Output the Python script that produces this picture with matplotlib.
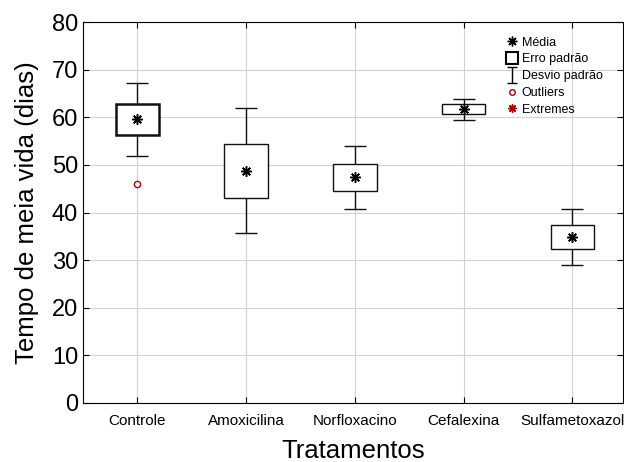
import matplotlib
matplotlib.use("Agg")
import matplotlib.pyplot as plt
from matplotlib.lines import Line2D
from matplotlib.path import Path

plt.rcParams['font.family'] = ['Liberation Sans', 'DejaVu Sans']

# dados
tratamentos = ["Controle", "Amoxicilina", "Norfloxacino", "Cefalexina", "Sulfametoxazol"]
media = [59.6, 48.8, 47.4, 61.7, 34.8]
ep_baixo = [56.3, 43.0, 44.5, 60.6, 32.3]
ep_alto = [62.9, 54.5, 50.3, 62.7, 37.3]
dp_baixo = [51.9, 35.6, 40.8, 59.4, 28.9]
dp_alto = [67.2, 61.9, 54.0, 63.8, 40.7]
outliers_x = ["Controle"]
outliers_y = [45.9]

fig = plt.figure(figsize=(6.24, 4.62), dpi=100)
ax = fig.add_axes([0.133, 0.128, 0.866, 0.824])

pos = list(range(1, len(tratamentos) + 1))
asterisco = (8, 2, 0)

# whiskers (desvio padrao)
low = [m - d for m, d in zip(media, dp_baixo)]
high = [d - m for m, d in zip(media, dp_alto)]
ax.errorbar(pos, media, yerr=[low, high], fmt='none', ecolor='#111111',
            elinewidth=1.0, capsize=7.8, capthick=1.0, zorder=3)

# caixas (erro padrao)
alturas = [a - b for a, b in zip(ep_alto, ep_baixo)]
lws = [1.8, 1.0, 1.0, 1.0, 1.0]
ax.bar(pos, alturas, bottom=ep_baixo, width=0.4, color='white',
       edgecolor='#111111', linewidth=lws, zorder=4)

# medias
ax.plot(pos, media, linestyle='none', marker=asterisco, markersize=7.5,
        color='black', markeredgewidth=1.1, zorder=5)

# outliers
ox = [pos[tratamentos.index(t)] for t in outliers_x]
ax.plot(ox, outliers_y, linestyle='none', marker='o', markersize=4.5,
        markerfacecolor='white', markeredgecolor='#b00000',
        markeredgewidth=1.0, zorder=5)

ax.set_xlim(0.5, 5.47)
ax.set_ylim(0, 80)
ax.set_yticks(range(0, 81, 10))
ax.set_xticks(pos)
ax.set_xticklabels(tratamentos, fontsize=11)
ax.tick_params(axis='y', labelsize=17, direction='in', length=4,
               right=True)
ax.tick_params(axis='x', direction='in', length=4, top=True, pad=8)
ax.grid(True, color='#d2d2d2', linewidth=0.8)
ax.set_axisbelow(True)
for s in ax.spines.values():
    s.set_linewidth(0.8)

ax.set_xlabel("Tratamentos", fontsize=18.5, labelpad=8)
ax.set_ylabel("Tempo de meia vida (dias)", fontsize=18.5, labelpad=9)

# legenda
barra = Path([(0, -1), (0, 1), (-0.6, 1), (0.6, 1), (-0.6, -1), (0.6, -1)],
             [Path.MOVETO, Path.LINETO, Path.MOVETO, Path.LINETO,
              Path.MOVETO, Path.LINETO])
handles = [
    Line2D([], [], linestyle='none', marker=asterisco, markersize=7,
           color='black', markeredgewidth=1.0),
    Line2D([], [], linestyle='none', marker='s', markersize=9,
           markerfacecolor='white', markeredgecolor='black',
           markeredgewidth=1.5),
    Line2D([], [], linestyle='none', marker=barra, markersize=11,
           color='black', markeredgewidth=1.0),
    Line2D([], [], linestyle='none', marker='o', markersize=4,
           markerfacecolor='white', markeredgecolor='#b00000'),
    Line2D([], [], linestyle='none', marker=asterisco, markersize=6,
           color='#b00000', markeredgewidth=1.0),
]
labels = ["Média", "Erro padrão", "Desvio padrão", "Outliers", "Extremes"]
ax.legend(handles, labels, loc='upper left', bbox_to_anchor=(0.768, 0.985),
          frameon=False, fontsize=9, handlelength=0.8, handletextpad=0.4,
          labelspacing=0.38, borderpad=0.2)

fig.savefig("out.png", dpi=100)
